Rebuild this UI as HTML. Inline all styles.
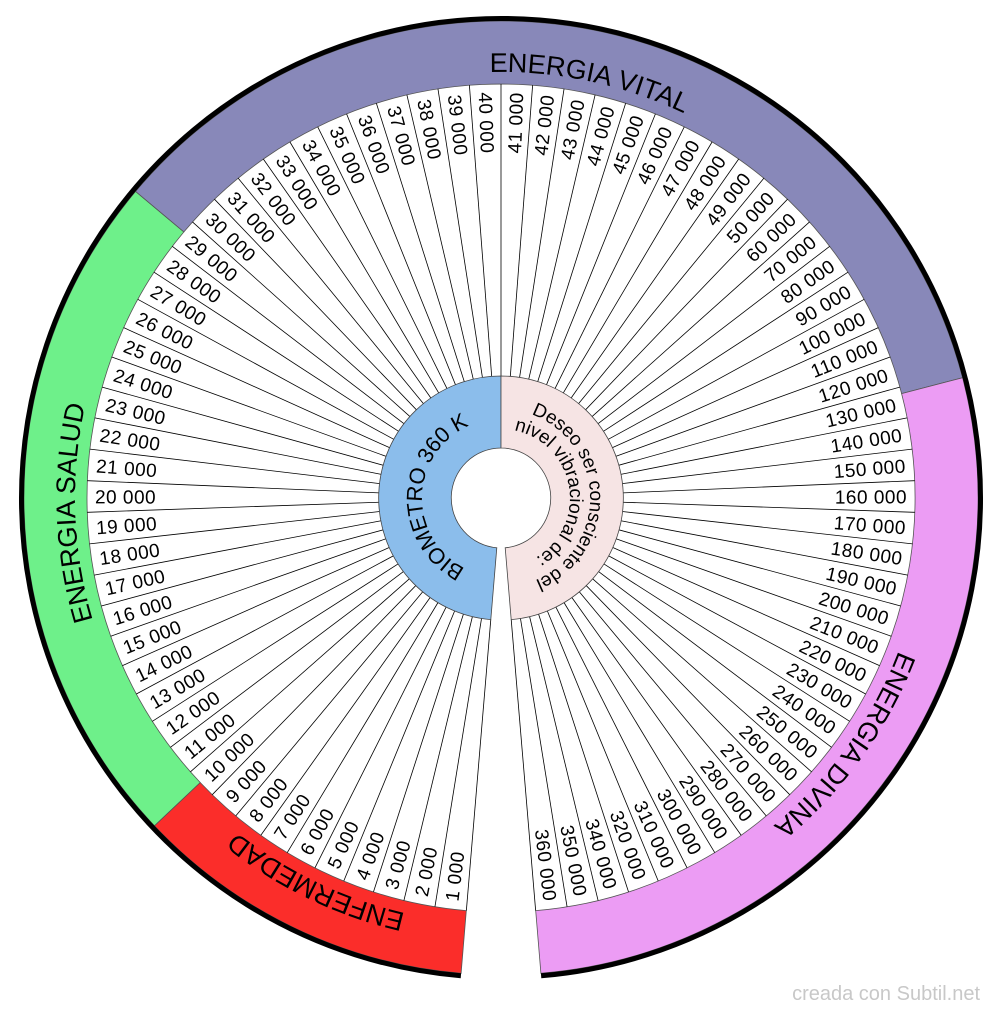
<!DOCTYPE html>
<html><head><meta charset="utf-8"><style>
html,body{margin:0;padding:0;background:#fff;}
svg{display:block;}
text{font-family:"Liberation Sans",Arial,sans-serif;}
</style></head><body>
<svg width="1000" height="1014" viewBox="0 0 1000 1014" xmlns="http://www.w3.org/2000/svg">
<defs>
<path id="big" d="M 501,924 A 426 426 0 1 1 501,72 A 426 426 0 1 1 501,924"/>
<path id="bio" d="M 465.1,568.4 A 79 79 0 0 1 469.5,425.6"/>
<path id="des1" d="M 531.4,414.3 A 89 89 0 0 1 518.0,585.4"/>
<path id="des2" d="M 514.2,430.3 A 69 69 0 0 1 521.1,564.0"/>
</defs>
<g stroke="#555" stroke-width="0.8">
<path fill="#fb2d2a" d="M 461.1,973.3 A 477 477 0 0 1 154.4,825.8 L 200.2,782.5 A 414 414 0 0 0 466.3,910.6 Z"/>
<path fill="#6ef08a" d="M 154.4,825.8 A 477 477 0 0 1 135.6,191.4 L 183.9,231.9 A 414 414 0 0 0 200.2,782.5 Z"/>
<path fill="#8888b9" d="M 135.6,191.4 A 477 477 0 0 1 962.6,377.7 L 901.6,393.6 A 414 414 0 0 0 183.9,231.9 Z"/>
<path fill="#ec9cf4" d="M 962.6,377.7 A 477 477 0 0 1 540.9,973.3 L 535.7,910.6 A 414 414 0 0 0 901.6,393.6 Z"/>
</g>
<path d="M 460.9,975.8 A 479.5 479.5 0 1 1 541.1,975.8" fill="none" stroke="#000" stroke-width="5"/>
<g font-size="27" fill="#000" text-anchor="middle">
<text><textPath href="#big" startOffset="1427">ENERGIA VITAL</textPath></text>
<text><textPath href="#big" startOffset="2272">ENERGIA DIVINA</textPath></text>
<text><textPath href="#big" startOffset="654">ENERGIA SALUD</textPath></text>
<text><textPath href="#big" startOffset="191">ENFERMEDAD</textPath></text>
</g>
<g transform="translate(501,498)">
<g stroke="#000" stroke-width="0.8">
<line x1="122" x2="414" transform="rotate(94.8)"/><line x1="122" x2="414" transform="rotate(99.18)"/><line x1="122" x2="414" transform="rotate(103.56)"/><line x1="122" x2="414" transform="rotate(107.94)"/><line x1="122" x2="414" transform="rotate(112.32)"/><line x1="122" x2="414" transform="rotate(116.7)"/><line x1="122" x2="414" transform="rotate(121.08)"/><line x1="122" x2="414" transform="rotate(125.46)"/><line x1="122" x2="414" transform="rotate(129.84)"/><line x1="122" x2="414" transform="rotate(134.22)"/><line x1="122" x2="414" transform="rotate(138.6)"/><line x1="122" x2="414" transform="rotate(142.98)"/><line x1="122" x2="414" transform="rotate(147.36)"/><line x1="122" x2="414" transform="rotate(151.74)"/><line x1="122" x2="414" transform="rotate(156.12)"/><line x1="122" x2="414" transform="rotate(160.5)"/><line x1="122" x2="414" transform="rotate(164.88)"/><line x1="122" x2="414" transform="rotate(169.26)"/><line x1="122" x2="414" transform="rotate(173.64)"/><line x1="122" x2="414" transform="rotate(178.02)"/><line x1="122" x2="414" transform="rotate(182.4)"/><line x1="122" x2="414" transform="rotate(186.78)"/><line x1="122" x2="414" transform="rotate(191.16)"/><line x1="122" x2="414" transform="rotate(195.54)"/><line x1="122" x2="414" transform="rotate(199.92)"/><line x1="122" x2="414" transform="rotate(204.3)"/><line x1="122" x2="414" transform="rotate(208.68)"/><line x1="122" x2="414" transform="rotate(213.06)"/><line x1="122" x2="414" transform="rotate(217.44)"/><line x1="122" x2="414" transform="rotate(221.82)"/><line x1="122" x2="414" transform="rotate(226.2)"/><line x1="122" x2="414" transform="rotate(230.58)"/><line x1="122" x2="414" transform="rotate(234.96)"/><line x1="122" x2="414" transform="rotate(239.34)"/><line x1="122" x2="414" transform="rotate(243.72)"/><line x1="122" x2="414" transform="rotate(248.1)"/><line x1="122" x2="414" transform="rotate(252.48)"/><line x1="122" x2="414" transform="rotate(256.86)"/><line x1="122" x2="414" transform="rotate(261.24)"/><line x1="122" x2="414" transform="rotate(265.62)"/><line x1="122" x2="414" transform="rotate(270)"/>
<line x1="122" x2="414" transform="rotate(-85.62)"/><line x1="122" x2="414" transform="rotate(-81.24)"/><line x1="122" x2="414" transform="rotate(-76.86)"/><line x1="122" x2="414" transform="rotate(-72.48)"/><line x1="122" x2="414" transform="rotate(-68.1)"/><line x1="122" x2="414" transform="rotate(-63.72)"/><line x1="122" x2="414" transform="rotate(-59.34)"/><line x1="122" x2="414" transform="rotate(-54.96)"/><line x1="122" x2="414" transform="rotate(-50.58)"/><line x1="122" x2="414" transform="rotate(-46.2)"/><line x1="122" x2="414" transform="rotate(-41.82)"/><line x1="122" x2="414" transform="rotate(-37.44)"/><line x1="122" x2="414" transform="rotate(-33.06)"/><line x1="122" x2="414" transform="rotate(-28.68)"/><line x1="122" x2="414" transform="rotate(-24.3)"/><line x1="122" x2="414" transform="rotate(-19.92)"/><line x1="122" x2="414" transform="rotate(-15.54)"/><line x1="122" x2="414" transform="rotate(-11.16)"/><line x1="122" x2="414" transform="rotate(-6.78)"/><line x1="122" x2="414" transform="rotate(-2.4)"/><line x1="122" x2="414" transform="rotate(1.98)"/><line x1="122" x2="414" transform="rotate(6.36)"/><line x1="122" x2="414" transform="rotate(10.74)"/><line x1="122" x2="414" transform="rotate(15.12)"/><line x1="122" x2="414" transform="rotate(19.5)"/><line x1="122" x2="414" transform="rotate(23.88)"/><line x1="122" x2="414" transform="rotate(28.26)"/><line x1="122" x2="414" transform="rotate(32.64)"/><line x1="122" x2="414" transform="rotate(37.02)"/><line x1="122" x2="414" transform="rotate(41.4)"/><line x1="122" x2="414" transform="rotate(45.78)"/><line x1="122" x2="414" transform="rotate(50.16)"/><line x1="122" x2="414" transform="rotate(54.54)"/><line x1="122" x2="414" transform="rotate(58.92)"/><line x1="122" x2="414" transform="rotate(63.3)"/><line x1="122" x2="414" transform="rotate(67.68)"/><line x1="122" x2="414" transform="rotate(72.06)"/><line x1="122" x2="414" transform="rotate(76.44)"/><line x1="122" x2="414" transform="rotate(80.82)"/><line x1="122" x2="414" transform="rotate(85.2)"/>
</g>
<g font-size="19" letter-spacing="0.5" fill="#000">
<text x="-406" dy="0.36em" transform="rotate(96.99) rotate(180)">1 000</text>
<text x="-406" dy="0.36em" transform="rotate(101.37) rotate(180)">2 000</text>
<text x="-406" dy="0.36em" transform="rotate(105.75) rotate(180)">3 000</text>
<text x="-406" dy="0.36em" transform="rotate(110.13) rotate(180)">4 000</text>
<text x="-406" dy="0.36em" transform="rotate(114.51) rotate(180)">5 000</text>
<text x="-406" dy="0.36em" transform="rotate(118.89) rotate(180)">6 000</text>
<text x="-406" dy="0.36em" transform="rotate(123.27) rotate(180)">7 000</text>
<text x="-406" dy="0.36em" transform="rotate(127.65) rotate(180)">8 000</text>
<text x="-406" dy="0.36em" transform="rotate(132.03) rotate(180)">9 000</text>
<text x="-406" dy="0.36em" transform="rotate(136.41) rotate(180)">10 000</text>
<text x="-406" dy="0.36em" transform="rotate(140.79) rotate(180)">11 000</text>
<text x="-406" dy="0.36em" transform="rotate(145.17) rotate(180)">12 000</text>
<text x="-406" dy="0.36em" transform="rotate(149.55) rotate(180)">13 000</text>
<text x="-406" dy="0.36em" transform="rotate(153.93) rotate(180)">14 000</text>
<text x="-406" dy="0.36em" transform="rotate(158.31) rotate(180)">15 000</text>
<text x="-406" dy="0.36em" transform="rotate(162.69) rotate(180)">16 000</text>
<text x="-406" dy="0.36em" transform="rotate(167.07) rotate(180)">17 000</text>
<text x="-406" dy="0.36em" transform="rotate(171.45) rotate(180)">18 000</text>
<text x="-406" dy="0.36em" transform="rotate(175.83) rotate(180)">19 000</text>
<text x="-406" dy="0.36em" transform="rotate(180.21) rotate(180)">20 000</text>
<text x="-406" dy="0.36em" transform="rotate(184.59) rotate(180)">21 000</text>
<text x="-406" dy="0.36em" transform="rotate(188.97) rotate(180)">22 000</text>
<text x="-406" dy="0.36em" transform="rotate(193.35) rotate(180)">23 000</text>
<text x="-406" dy="0.36em" transform="rotate(197.73) rotate(180)">24 000</text>
<text x="-406" dy="0.36em" transform="rotate(202.11) rotate(180)">25 000</text>
<text x="-406" dy="0.36em" transform="rotate(206.49) rotate(180)">26 000</text>
<text x="-406" dy="0.36em" transform="rotate(210.87) rotate(180)">27 000</text>
<text x="-406" dy="0.36em" transform="rotate(215.25) rotate(180)">28 000</text>
<text x="-406" dy="0.36em" transform="rotate(219.63) rotate(180)">29 000</text>
<text x="-406" dy="0.36em" transform="rotate(224.01) rotate(180)">30 000</text>
<text x="-406" dy="0.36em" transform="rotate(228.39) rotate(180)">31 000</text>
<text x="-406" dy="0.36em" transform="rotate(232.77) rotate(180)">32 000</text>
<text x="-406" dy="0.36em" transform="rotate(237.15) rotate(180)">33 000</text>
<text x="-406" dy="0.36em" transform="rotate(241.53) rotate(180)">34 000</text>
<text x="-406" dy="0.36em" transform="rotate(245.91) rotate(180)">35 000</text>
<text x="-406" dy="0.36em" transform="rotate(250.29) rotate(180)">36 000</text>
<text x="-406" dy="0.36em" transform="rotate(254.67) rotate(180)">37 000</text>
<text x="-406" dy="0.36em" transform="rotate(259.05) rotate(180)">38 000</text>
<text x="-406" dy="0.36em" transform="rotate(263.43) rotate(180)">39 000</text>
<text x="-406" dy="0.36em" transform="rotate(267.81) rotate(180)">40 000</text>
</g>
<g font-size="19" letter-spacing="0.5" fill="#000" text-anchor="end">
<text x="406" dy="0.36em" transform="rotate(-87.81)">41 000</text>
<text x="406" dy="0.36em" transform="rotate(-83.43)">42 000</text>
<text x="406" dy="0.36em" transform="rotate(-79.05)">43 000</text>
<text x="406" dy="0.36em" transform="rotate(-74.67)">44 000</text>
<text x="406" dy="0.36em" transform="rotate(-70.29)">45 000</text>
<text x="406" dy="0.36em" transform="rotate(-65.91)">46 000</text>
<text x="406" dy="0.36em" transform="rotate(-61.53)">47 000</text>
<text x="406" dy="0.36em" transform="rotate(-57.15)">48 000</text>
<text x="406" dy="0.36em" transform="rotate(-52.77)">49 000</text>
<text x="406" dy="0.36em" transform="rotate(-48.39)">50 000</text>
<text x="406" dy="0.36em" transform="rotate(-44.01)">60 000</text>
<text x="406" dy="0.36em" transform="rotate(-39.63)">70 000</text>
<text x="406" dy="0.36em" transform="rotate(-35.25)">80 000</text>
<text x="406" dy="0.36em" transform="rotate(-30.87)">90 000</text>
<text x="406" dy="0.36em" transform="rotate(-26.49)">100 000</text>
<text x="406" dy="0.36em" transform="rotate(-22.11)">110 000</text>
<text x="406" dy="0.36em" transform="rotate(-17.73)">120 000</text>
<text x="406" dy="0.36em" transform="rotate(-13.35)">130 000</text>
<text x="406" dy="0.36em" transform="rotate(-8.97)">140 000</text>
<text x="406" dy="0.36em" transform="rotate(-4.59)">150 000</text>
<text x="406" dy="0.36em" transform="rotate(-0.21)">160 000</text>
<text x="406" dy="0.36em" transform="rotate(4.17)">170 000</text>
<text x="406" dy="0.36em" transform="rotate(8.55)">180 000</text>
<text x="406" dy="0.36em" transform="rotate(12.93)">190 000</text>
<text x="406" dy="0.36em" transform="rotate(17.31)">200 000</text>
<text x="406" dy="0.36em" transform="rotate(21.69)">210 000</text>
<text x="406" dy="0.36em" transform="rotate(26.07)">220 000</text>
<text x="406" dy="0.36em" transform="rotate(30.45)">230 000</text>
<text x="406" dy="0.36em" transform="rotate(34.83)">240 000</text>
<text x="406" dy="0.36em" transform="rotate(39.21)">250 000</text>
<text x="406" dy="0.36em" transform="rotate(43.59)">260 000</text>
<text x="406" dy="0.36em" transform="rotate(47.97)">270 000</text>
<text x="406" dy="0.36em" transform="rotate(52.35)">280 000</text>
<text x="406" dy="0.36em" transform="rotate(56.73)">290 000</text>
<text x="406" dy="0.36em" transform="rotate(61.11)">300 000</text>
<text x="406" dy="0.36em" transform="rotate(65.49)">310 000</text>
<text x="406" dy="0.36em" transform="rotate(69.87)">320 000</text>
<text x="406" dy="0.36em" transform="rotate(74.25)">340 000</text>
<text x="406" dy="0.36em" transform="rotate(78.63)">350 000</text>
<text x="406" dy="0.36em" transform="rotate(83.01)">360 000</text>
</g>
</g>
<path fill="#8bbdeb" stroke="#444" stroke-width="0.8" d="M 490.8,619.6 A 122 122 0 0 1 501,376 L 501,448 A 50 50 0 0 0 496.8,547.8 Z"/>
<path fill="#f6e4e4" stroke="#444" stroke-width="0.8" d="M 501,376 A 122 122 0 0 1 511.2,619.6 L 505.2,547.8 A 50 50 0 0 0 501,448 Z"/>
<text font-size="22" fill="#000"><textPath href="#bio" textLength="178" lengthAdjust="spacing">BIOMETRO 360 K</textPath></text>
<g font-size="19" fill="#000">
<text><textPath href="#des1">Deseo ser consciente del</textPath></text>
<text><textPath href="#des2">nivel vibracional de:</textPath></text>
</g>
<text x="980" y="1000" font-size="20" fill="#c8c8c8" text-anchor="end">creada con Subtil.net</text>
</svg>
</body></html>
